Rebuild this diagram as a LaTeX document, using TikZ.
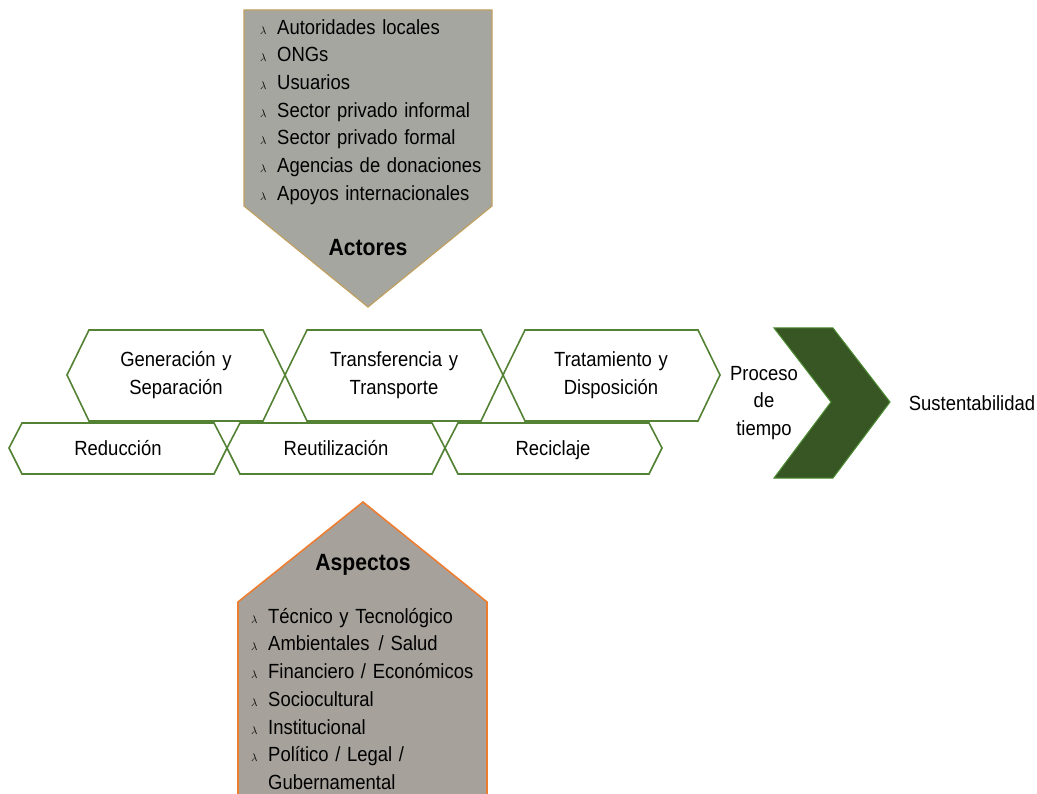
\documentclass[tikz,border=0pt]{standalone}
\usepackage{fontspec}
\setmainfont{Liberation Sans}[FakeStretch=0.9, WordSpace=1.3]
\usepackage{tikz}
\usetikzlibrary{positioning}

\definecolor{stepgreen}{RGB}{84,130,53}
\definecolor{darkgreen}{RGB}{55,86,35}
\definecolor{arrowline}{RGB}{76,140,50}
\definecolor{actgray}{RGB}{166,166,161}
\definecolor{actline}{RGB}{191,160,96}
\definecolor{aspgray}{RGB}{166,162,155}
\definecolor{aspline}{RGB}{237,125,49}

\newcommand{\bul}{\makebox[17pt][l]{\fontsize{11}{11}\selectfont$\lambda$}}

\begin{document}
\begin{tikzpicture}[x=1pt, y=-1pt,
    hexa/.style={draw=stepgreen, line width=1.6pt, fill=white},
    txt/.style={font=\fontsize{20.5}{27.7}\selectfont, align=center, inner sep=0pt},
    list/.style={font=\fontsize{20.5}{27.7}\selectfont, align=left, inner sep=0pt, anchor=north west},
    title/.style={font=\fontsize{23.5}{27}\selectfont\bfseries, inner sep=0pt}]
    \useasboundingbox (0,0) rectangle (1037,794);
    \clip (0,0) rectangle (1037,794);

    % Actores
    \draw[fill=actgray, draw=actline, line width=1.2pt] (244,10) -- (492,10) -- (492,206) -- (368,307) -- (244,206) -- cycle;
    \node[list] (actlist) at (260,19) {\bul Autoridades locales\\ \bul ONGs\\ \bul Usuarios\\ \bul Sector privado informal\\ \bul Sector privado formal\\ \bul Agencias de donaciones\\ \bul Apoyos internacionales};
    \node[title] (actores) at (368,248) {Actores};

    % Etapas
    \draw[hexa] (67,375) -- (89,330) -- (263,330) -- (285,375) -- (263,421) -- (89,421) -- cycle;
    \draw[hexa] (285,375) -- (307,330) -- (481,330) -- (503,375) -- (481,421) -- (307,421) -- cycle;
    \draw[hexa] (503,375) -- (525,330) -- (698,330) -- (720,375) -- (698,421) -- (525,421) -- cycle;
    \node[txt] (gen) at (176,375) {Generación y\\ Separación};
    \node[txt] (trans) at (394,375) {Transferencia y\\ Transporte};
    \node[txt] (trat) at (611,375) {Tratamiento y\\ Disposición};

    % 3R
    \draw[hexa] (9,448) -- (22,423) -- (214,423) -- (227,448) -- (214,474) -- (22,474) -- cycle;
    \draw[hexa] (227,448) -- (240,423) -- (432,423) -- (445,448) -- (432,474) -- (240,474) -- cycle;
    \draw[hexa] (445,448) -- (458,423) -- (649,423) -- (662,448) -- (649,474) -- (458,474) -- cycle;
    \node[txt, anchor=base] (red) at (118,455) {Reducción};
    \node[txt, anchor=base] (reut) at (336,455) {Reutilización};
    \node[txt, anchor=base] (recic) at (553,455) {Reciclaje};

    % Proceso
    \node[txt] (proceso) at (764,403) {Proceso\\ de\\ tiempo};
    \draw[fill=darkgreen, draw=arrowline, line width=1pt] (774,328) -- (833,328) -- (890,402) -- (833,478) -- (774,478) -- (831,402) -- cycle;
    \node[txt, anchor=base] (sust) at (972,410) {Sustentabilidad};

    % Aspectos
    \draw[fill=aspgray, draw=aspline, line width=1.6pt] (363,502) -- (487,602) -- (487,800) -- (238,800) -- (238,602) -- cycle;
    \node[title] (aspectos) at (363,565) {Aspectos};
    \node[list] (asplist) at (251,608) {\bul Técnico y Tecnológico\\ \bul Ambientales\hspace{9pt}/ Salud\\ \bul Financiero / Económicos\\ \bul Sociocultural\\ \bul Institucional\\ \bul Político / Legal /\\ \hspace*{17pt}Gubernamental};
\end{tikzpicture}
\end{document}
